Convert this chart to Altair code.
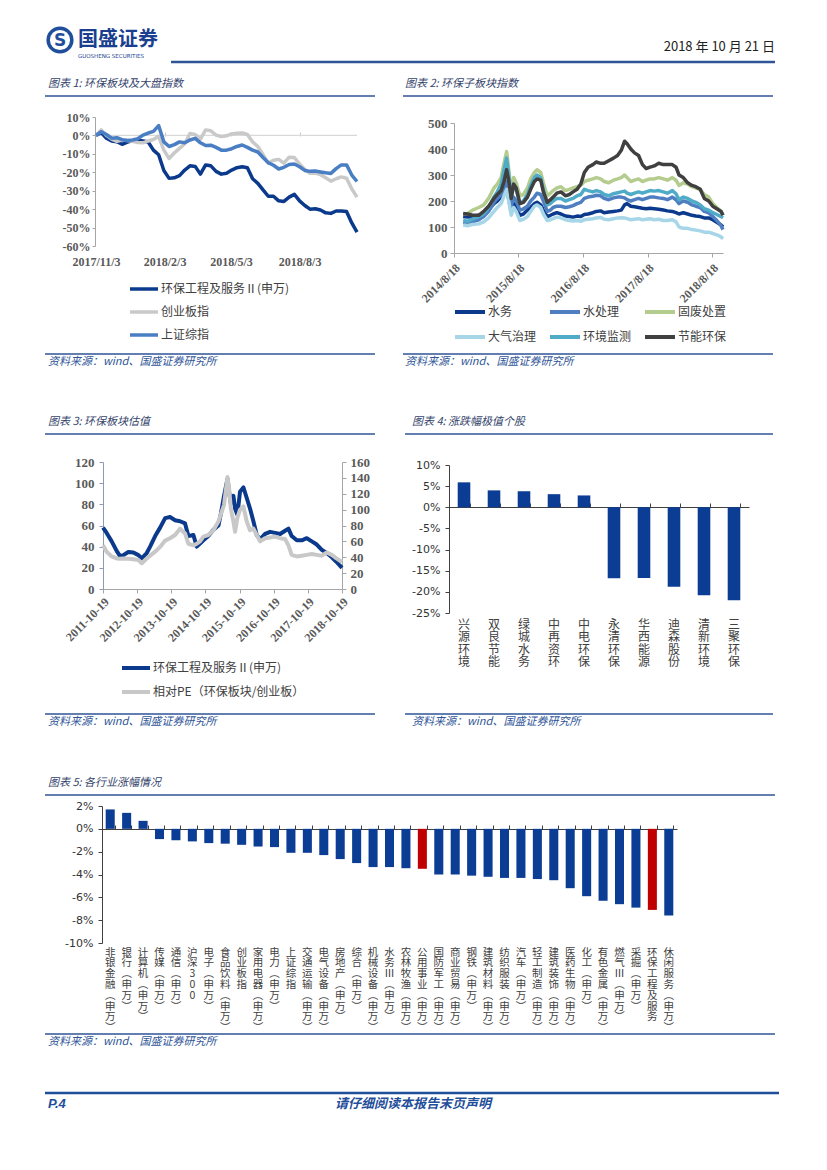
import altair as alt
import pandas as pd

W, H = 811, 1154
M = 8


def px(x):
    return x - M


def py(y):
    return y - M


CJK = "Noto Sans CJK SC"
SERIF = "Liberation Serif"
SANS = "DejaVu Sans"
RULE_BLUE = "#2F5597"
TITLE_C = "#34446B"
SRC_C = "#2F5597"
FOOT_C = "#1F4E9A"
NAVY = "#0B3A8C"
BAR_BLUE = "#0A3D93"
RED = "#C00000"
AX_GRAY = "#A6A6A6"
LAB_GRAY = "#595959"

# ---------------- chart 1: 环保板块及大盘指数 ----------------
c1_dates = ["2017-11-03", "2017-11-10", "2017-11-17", "2017-11-24", "2017-12-01", "2017-12-08",
            "2017-12-15", "2017-12-22", "2017-12-29", "2018-01-05", "2018-01-12", "2018-01-19",
            "2018-01-26", "2018-02-02", "2018-02-09", "2018-02-16", "2018-02-23", "2018-03-02",
            "2018-03-09", "2018-03-16", "2018-03-23", "2018-03-30", "2018-04-06", "2018-04-13",
            "2018-04-20", "2018-04-27", "2018-05-04", "2018-05-11", "2018-05-18", "2018-05-25",
            "2018-06-01", "2018-06-08", "2018-06-15", "2018-06-22", "2018-06-29", "2018-07-06",
            "2018-07-13", "2018-07-20", "2018-07-27", "2018-08-03", "2018-08-10", "2018-08-17",
            "2018-08-24", "2018-08-31", "2018-09-07", "2018-09-14", "2018-09-21", "2018-09-28",
            "2018-10-05", "2018-10-12", "2018-10-19"]
c1_huanbao = [0, 1.5, -1.5, -3.0, -3.4, -4.8, -3.6, -2.9, -2.6, -3.0,
              -3.6, -8.0, -10.5, -19.0, -23.3, -23.0, -21.8, -18.8, -16.5, -16.8,
              -21.0, -16.0, -16.5, -19.5, -21.0, -20.5, -18.8, -17.5, -17.0, -17.5,
              -23.5, -26.0, -29.5, -33.0, -33.0, -35.5, -35.8, -33.5, -32.0, -35.5,
              -38.0, -40.0, -39.8, -40.5, -42.0, -42.3, -41.0, -41.0, -41.3, -47.5, -52.5]
c1_cyb = [0, 3.0, 0.0, -2.0, -3.2, -2.5, -2.8, -3.2, -3.8, -4.0,
          -3.0, -2.2, -0.5, -8.0, -12.5, -9.5, -7.0, -4.5, 1.0, 0.5,
          -2.0, 3.0, 2.5, 0.2, -0.6, -0.2, 0.8, 1.2, 1.3, 0.5,
          -3.5, -6.0, -10.5, -15.0, -13.5, -13.0, -15.0, -11.8, -12.0, -15.5,
          -18.5, -20.5, -20.4, -21.3, -23.0, -24.8, -23.5, -22.5, -23.2, -29.0, -33.5]
c1_szzz = [0, 2.0, 0.5, -1.5, -1.2, -2.3, -2.8, -2.5, -1.8, 0.2,
           1.3, 2.2, 5.3, -3.5, -6.0, -5.0, -3.5, -4.0, -2.5, -1.6,
           -4.0, -5.5, -5.3, -6.5, -8.0, -8.0, -7.2, -6.0, -5.2, -6.5,
           -8.0, -9.0, -12.0, -14.8, -16.2, -18.2, -17.3, -15.8, -15.5, -17.0,
           -19.0, -19.5, -19.3, -19.8, -20.3, -20.6, -18.0, -16.0, -16.0, -21.5, -25.0]
c1_names = ["环保工程及服务Ⅱ(申万)", "创业板指", "上证综指"]
c1_colors = [NAVY, "#C9C9C9", "#4A7EC4"]
c1_yticks = [-60, -50, -40, -30, -20, -10, 0, 10]

# ---------------- chart 2: 环保子板块指数 ----------------
c2_dates = ["2014-10-09", "2014-11-03", "2014-12-01", "2015-01-05", "2015-02-02", "2015-03-02",
            "2015-04-01", "2015-04-20", "2015-05-12", "2015-05-28", "2015-06-12", "2015-06-26",
            "2015-07-08", "2015-07-22", "2015-08-05", "2015-08-26", "2015-09-15", "2015-10-08",
            "2015-10-26", "2015-11-16", "2015-12-01", "2015-12-22", "2016-01-06", "2016-01-28",
            "2016-02-15", "2016-03-01", "2016-03-22", "2016-04-15", "2016-05-10", "2016-06-01",
            "2016-06-22", "2016-07-15", "2016-08-05", "2016-08-25", "2016-09-15", "2016-10-12",
            "2016-11-01", "2016-11-25", "2016-12-15", "2017-01-10", "2017-02-06", "2017-03-01",
            "2017-03-22", "2017-04-10", "2017-04-24", "2017-05-15", "2017-06-05", "2017-06-28",
            "2017-07-20", "2017-08-10", "2017-09-01", "2017-09-25", "2017-10-20", "2017-11-15",
            "2017-12-08", "2018-01-05", "2018-01-26", "2018-02-12", "2018-03-08", "2018-04-02",
            "2018-04-26", "2018-05-18", "2018-06-12", "2018-07-05", "2018-07-30", "2018-08-22",
            "2018-09-14", "2018-10-08", "2018-10-19"]
c2_shuiwu = [140, 138, 140, 145, 150, 165, 190, 200, 215, 230, 245, 200, 160, 190, 175, 145, 150, 165,
             175, 190, 195, 185, 165, 140, 145, 150, 155, 150, 142, 140, 138, 142, 140, 148, 150, 155,
             160, 162, 155, 158, 160, 162, 165, 185, 190, 180, 178, 175, 172, 170, 172, 170, 168, 165,
             162, 160, 155, 150, 155, 150, 145, 142, 140, 135, 135, 128, 118, 108, 100]
c2_shuichuli = [118, 115, 120, 128, 140, 160, 195, 210, 225, 250, 275, 225, 180, 215, 200, 165, 170, 180,
                200, 215, 230, 225, 200, 160, 165, 175, 180, 180, 175, 178, 182, 190, 195, 210, 215, 218,
                222, 220, 210, 205, 212, 215, 215, 212, 205, 200, 205, 210, 205, 210, 215, 215, 212, 210,
                205, 215, 205, 190, 200, 195, 185, 180, 175, 160, 155, 140, 125, 105, 90]
c2_gufei = [150, 152, 165, 175, 185, 210, 250, 265, 290, 345, 390, 310, 230, 290, 270, 220, 225, 250,
            285, 310, 320, 310, 270, 220, 230, 240, 250, 255, 240, 245, 250, 255, 260, 275, 280, 285,
            290, 285, 275, 270, 280, 285, 290, 300, 290, 275, 280, 285, 275, 280, 285, 285, 290, 285,
            280, 290, 280, 260, 270, 265, 255, 250, 245, 225, 215, 190, 175, 160, 145]
c2_daqi = [108, 105, 110, 112, 120, 135, 160, 175, 190, 220, 245, 190, 145, 175, 160, 125, 130, 140,
           160, 180, 185, 175, 150, 125, 128, 132, 138, 135, 128, 125, 123, 125, 122, 128, 130, 132,
           135, 137, 130, 128, 132, 135, 136, 135, 132, 128, 130, 132, 128, 130, 132, 128, 130, 125,
           125, 128, 120, 100, 95, 95, 90, 88, 85, 80, 80, 75, 70, 62, 55]
c2_jiance = [125, 122, 130, 140, 150, 175, 215, 235, 265, 320, 365, 290, 210, 265, 245, 190, 200, 225,
             260, 290, 300, 290, 245, 185, 190, 200, 210, 210, 200, 205, 210, 220, 225, 245, 240, 235,
             240, 235, 225, 220, 228, 232, 235, 238, 230, 225, 230, 235, 230, 235, 240, 238, 240, 235,
             230, 240, 228, 205, 215, 210, 200, 195, 185, 170, 165, 155, 148, 140, 135]
c2_jieneng = [152, 150, 145, 145, 160, 180, 210, 225, 240, 275, 320, 270, 210, 265, 250, 190, 195, 215,
              245, 275, 285, 280, 235, 195, 205, 215, 230, 235, 220, 225, 235, 245, 265, 310, 330, 340,
              350, 345, 345, 355, 365, 375, 395, 430, 420, 400, 385, 375, 340, 325, 330, 335, 345, 340,
              340, 340, 330, 300, 290, 270, 260, 255, 245, 210, 200, 180, 170, 160, 145]
c2_names = ["水务", "水处理", "固废处置", "大气治理", "环境监测", "节能环保"]
c2_colors = [NAVY, "#4F7FC0", "#B4CC8E", "#A6D6E8", "#4FACC8", "#404040"]
c2_yticks = [0, 100, 200, 300, 400, 500]

# ---------------- chart 3: 环保板块估值 ----------------
c3_dates = ["2011-10-19", "2011-11-27", "2012-01-20", "2012-03-13", "2012-04-18", "2012-05-24",
            "2012-07-16", "2012-09-08", "2012-11-01", "2012-12-07", "2013-01-29", "2013-03-06",
            "2013-04-29", "2013-06-21", "2013-08-14", "2013-10-05", "2013-11-28", "2014-01-20",
            "2014-03-15", "2014-04-19", "2014-06-12", "2014-07-18", "2014-08-22", "2014-09-27",
            "2014-11-19", "2015-01-12", "2015-03-07", "2015-04-04", "2015-05-06", "2015-06-12",
            "2015-06-29", "2015-07-17", "2015-08-14", "2015-09-01", "2015-09-26", "2015-10-24",
            "2015-11-29", "2016-01-04", "2016-02-08", "2016-03-15", "2016-04-20", "2016-05-26",
            "2016-07-18", "2016-09-10", "2016-11-02", "2016-12-26", "2017-02-17", "2017-03-25",
            "2017-04-29", "2017-06-22", "2017-08-15", "2017-10-07", "2017-11-30", "2018-01-22",
            "2018-03-17", "2018-05-09", "2018-07-02", "2018-08-17", "2018-10-19"]
c3_pe = [58, 53, 45, 36, 31, 32, 35, 34.5, 32, 29,
         34, 40, 50, 58, 67, 68, 65, 64, 62, 50,
         51, 40, 43, 46, 50, 56, 60, 72, 88, 104,
         92, 81, 88, 76, 70, 92, 96, 86, 76, 64,
         51, 47, 52, 54, 53, 52, 55, 57, 50, 46,
         46, 48, 45, 42, 37, 34, 30, 26, 20]
c3_rel = [55, 47, 41, 38.5, 38, 38.5, 38, 37.5, 36.5, 32.5,
          38.5, 42, 47, 53, 61, 64, 68, 76, 70, 57,
          55, 57, 60, 66, 68, 74, 85, 95, 106, 141,
          127, 102, 85, 72, 90, 100, 104, 85, 74, 76,
          68, 60, 64, 65, 66, 64, 63, 55, 43, 41,
          42, 43, 44, 43, 42, 46, 43, 39, 34]
c3_names = ["环保工程及服务Ⅱ(申万)", "相对PE（环保板块/创业板）"]
c3_colors = [NAVY, "#C8C8C8"]
c3_left_ticks = [0, 20, 40, 60, 80, 100, 120]
c3_right_ticks = [0, 20, 40, 60, 80, 100, 120, 140, 160]

# ---------------- chart 4: 涨跌幅极值个股 ----------------
c4_names = ["兴源环境", "双良节能", "绿城水务", "中再资环", "中电环保",
            "永清环保", "华西能源", "迪森股份", "清新环境", "三聚环保"]
c4_values = [5.9, 4.0, 3.8, 3.1, 2.8, -16.8, -16.7, -18.8, -20.8, -22.0]
c4_yticks = [-25, -20, -15, -10, -5, 0, 5, 10]

# ---------------- chart 5: 各行业涨幅情况 ----------------
c5_names = ["非银金融(申万)", "银行(申万)", "计算机(申万)", "传媒(申万)", "通信(申万)", "沪深300",
            "电子(申万)", "食品饮料(申万)", "创业板指", "家用电器(申万)", "电力(申万)", "上证综指",
            "交通运输(申万)", "电气设备(申万)", "房地产(申万)", "综合(申万)", "机械设备(申万)",
            "水务Ⅲ(申万)", "农林牧渔(申万)", "公用事业(申万)", "国防军工(申万)", "商业贸易(申万)",
            "钢铁(申万)", "建筑材料(申万)", "纺织服装(申万)", "汽车(申万)", "轻工制造(申万)",
            "建筑装饰(申万)", "医药生物(申万)", "化工(申万)", "有色金属(申万)", "燃气Ⅲ(申万)",
            "采掘(申万)", "环保工程及服务", "休闲服务(申万)"]
c5_values = [1.7, 1.4, 0.7, -0.9, -1.0, -1.1, -1.25, -1.3, -1.4, -1.55,
             -1.6, -2.1, -2.1, -2.3, -2.65, -3.0, -3.35, -3.35, -3.45, -3.5,
             -4.0, -4.0, -4.1, -4.2, -4.3, -4.3, -4.4, -4.5, -5.2, -5.9,
             -6.3, -6.6, -6.9, -7.1, -7.6]
c5_red = ["公用事业(申万)", "环保工程及服务"]
c5_yticks = [-10, -8, -6, -4, -2, 0, 2]


def utc(y, m, d):
    return alt.DateTime(year=y, month=m, date=d, utc=True)


one = pd.DataFrame({"a": [0]})
layers = []


def txt(s, x, y, size=11, color="#333333", font=CJK, weight="normal", style="normal",
        align="left", baseline="middle"):
    return alt.Chart(one).mark_text(
        text=s, font=font, fontSize=size, color=color, fontWeight=weight,
        fontStyle=style, align=align, baseline=baseline
    ).encode(x=alt.value(px(x)), y=alt.value(py(y)))


def hline(x0, x1, y, color=RULE_BLUE, w=1.6):
    return alt.Chart(one).mark_rule(color=color, strokeWidth=w).encode(
        x=alt.value(px(x0)), x2=alt.value(px(x1)), y=alt.value(py(y)))


def num_axis(orient, xpos, values, expr, font=SERIF, weight="bold", size=12,
             color=LAB_GRAY, dcolor=AX_GRAY, tick=4, pad=3):
    if orient == "left":
        off = -px(xpos)
    else:
        off = px(xpos) - W
    return alt.Axis(orient=orient, offset=off, values=values, labelExpr=expr, grid=False,
                    domainColor=dcolor, tickColor=dcolor, tickSize=tick, labelPadding=pad,
                    labelFont=font, labelFontWeight=weight, labelFontSize=size,
                    labelColor=color, labelOverlap=False, title=None)


def line_legend(x, y, row_pad, sym=784, sw=3.5, columns=None, col_pad=None):
    kw = dict(orient="none", legendX=px(x), legendY=py(y), title=None, symbolType="stroke",
              symbolSize=sym, symbolStrokeWidth=sw, labelFont=CJK, labelFontSize=12,
              labelColor="#404040", rowPadding=row_pad, labelOffset=1, labelLimit=300,
              padding=0)
    if columns:
        kw.update(direction="horizontal", columns=columns, columnPadding=col_pad, gridAlign="all")
    else:
        kw.update(direction="vertical")
    return alt.Legend(**kw)


# ---------------- page decorations ----------------
layers.append(alt.Chart(one).mark_point(shape="circle", size=560, filled=False, stroke=FOOT_C,
                                        strokeWidth=3.5, opacity=1).encode(
    x=alt.value(px(60)), y=alt.value(py(40))))
layers.append(txt("S", 60, 41, size=17, color=FOOT_C, font=SANS, weight="bold", align="center"))
layers.append(txt("国盛证券", 78, 40, size=20, color="#1A3F8F", weight="bold"))
layers.append(txt("GUOSHENG SECURITIES", 78, 56, size=5.5, color="#1A3F8F", font=SANS))
layers.append(txt("2018 年 10 月 21 日", 775, 47, size=13, color="#222222",
                  font="Liberation Sans Narrow, Noto Sans CJK SC", align="right"))
layers.append(hline(171, 775, 62, color=RULE_BLUE, w=2.5))

layers.append(txt("图表 1:  环保板块及大盘指数", 48, 84, color=TITLE_C, style="italic"))
layers.append(txt("图表 2:  环保子板块指数", 405, 84, color=TITLE_C, style="italic"))
layers.append(txt("图表 3:  环保板块估值", 48, 422, color=TITLE_C, style="italic"))
layers.append(txt("图表 4:  涨跌幅极值个股", 412, 422, color=TITLE_C, style="italic"))
layers.append(txt("图表 5:  各行业涨幅情况", 48, 783, color=TITLE_C, style="italic"))
layers.append(hline(45, 375, 96))
layers.append(hline(403, 773, 96))
layers.append(hline(45, 375, 434))
layers.append(hline(405, 773, 434))
layers.append(hline(45, 775, 795))

SRC = "资料来源：wind、国盛证券研究所"
layers.append(txt(SRC, 48, 362, color=SRC_C, style="italic"))
layers.append(txt(SRC, 405, 362, color=SRC_C, style="italic"))
layers.append(txt(SRC, 48, 722, color=SRC_C, style="italic"))
layers.append(txt(SRC, 412, 722, color=SRC_C, style="italic"))
layers.append(txt(SRC, 48, 1042, color=SRC_C, style="italic"))
layers.append(hline(45, 375, 354))
layers.append(hline(403, 773, 354))
layers.append(hline(45, 375, 714))
layers.append(hline(405, 773, 714))
layers.append(hline(45, 775, 1034))

layers.append(hline(45, 779, 1093, color=FOOT_C, w=2.5))
layers.append(txt("P.4", 48, 1104, size=13, color=FOOT_C, font="Liberation Sans",
                  weight="bold", style="italic"))
layers.append(txt("请仔细阅读本报告末页声明", 413, 1104, size=13, color=FOOT_C,
                  weight="bold", style="italic", align="center"))

# ---------------- chart 1 ----------------
df1 = pd.DataFrame({
    "date": c1_dates * 3,
    "value": c1_huanbao + c1_cyb + c1_szzz,
    "series": [n for n in c1_names for _ in c1_dates],
})
x1_scale = alt.Scale(type="utc", domain=[utc(2017, 11, 3), utc(2018, 10, 19)], range=[px(96), px(357)])
y1_scale = alt.Scale(domain=[-60, 10], range=[py(246), py(117)], nice=False, zero=False)
x1_ticks = [utc(2017, 11, 3), utc(2018, 2, 3), utc(2018, 5, 3), utc(2018, 8, 3)]

zero1 = pd.DataFrame({"d0": [c1_dates[0]], "d1": [c1_dates[-1]], "v": [0]})
layers.append(alt.Chart(zero1).mark_rule(color="#D9D9D9", strokeWidth=1.2).encode(
    x=alt.X("d0:T", scale=x1_scale,
            axis=alt.Axis(orient="top", offset=-py(136), values=x1_ticks, labels=False,
                          domain=False, ticks=True, tickColor="#C8C8C8", tickSize=4,
                          grid=False, title=None)),
    x2="d1:T",
    y=alt.Y("v:Q", scale=y1_scale, axis=None),
))
layers.append(alt.Chart(df1).mark_line(strokeWidth=3.5, strokeJoin="round").encode(
    x=alt.X("date:T", scale=x1_scale,
            axis=alt.Axis(orient="bottom", offset=py(246) - H, values=x1_ticks,
                          labelExpr="utcFormat(datum.value, '%Y/%-m/%-d')", domain=False,
                          ticks=False, tickSize=0, labelPadding=10, grid=False, title=None,
                          labelFont=SERIF, labelFontWeight="bold", labelFontSize=12,
                          labelColor=LAB_GRAY, labelOverlap=False, labelFlush=False)),
    y=alt.Y("value:Q", scale=y1_scale,
            axis=num_axis("left", 95, c1_yticks, "datum.value + '%'", tick=3, pad=2)),
    color=alt.Color("series:N", scale=alt.Scale(domain=c1_names, range=c1_colors),
                    legend=line_legend(128, 273, -3)),
))

# ---------------- chart 2 ----------------
c2_series = [c2_shuiwu, c2_shuichuli, c2_gufei, c2_daqi, c2_jiance, c2_jieneng]
df2 = pd.DataFrame({
    "date": c2_dates * 6,
    "value": [v for s in c2_series for v in s],
    "series": [n for n in c2_names for _ in c2_dates],
})
x2_scale = alt.Scale(type="utc", domain=[utc(2014, 8, 18), utc(2018, 10, 19)], range=[px(454), px(723)])
y2_scale = alt.Scale(domain=[0, 500], range=[py(253), py(123)], nice=False, zero=False)
x2_ticks = [utc(y, 8, 18) for y in (2014, 2015, 2016, 2017, 2018)]
layers.append(alt.Chart(df2).mark_line(strokeWidth=3.5, strokeJoin="round").encode(
    x=alt.X("date:T", scale=x2_scale,
            axis=alt.Axis(orient="bottom", offset=py(253) - H, values=x2_ticks,
                          labelExpr="utcFormat(datum.value, '%Y/%-m/%-d')",
                          domainColor=AX_GRAY, tickColor=AX_GRAY, tickSize=4, labelPadding=5,
                          labelAngle=315, grid=False, title=None, labelFont=SERIF,
                          labelFontWeight="bold", labelFontSize=12, labelColor=LAB_GRAY,
                          labelOverlap=False, labelFlush=False)),
    y=alt.Y("value:Q", scale=y2_scale,
            axis=num_axis("left", 454, c2_yticks, "datum.value", size=13, tick=4, pad=3)),
    color=alt.Color("series:N", scale=alt.Scale(domain=c2_names, range=c2_colors),
                    legend=line_legend(453, 295, -2, sym=900, sw=4, columns=3, col_pad=5)),
))

# ---------------- chart 3 ----------------
x3_scale = alt.Scale(type="utc", domain=[utc(2011, 10, 19), utc(2018, 10, 19)], range=[px(103), px(342)])
y3l_scale = alt.Scale(domain=[0, 120], range=[py(589), py(462)], nice=False, zero=False)
y3r_scale = alt.Scale(domain=[0, 160], range=[py(589), py(462)], nice=False, zero=False)
x3_ticks = [utc(y, 10, 19) for y in range(2011, 2019)]
c3_color_scale = alt.Scale(domain=c3_names, range=c3_colors)
df3a = pd.DataFrame({"date": c3_dates, "value": c3_pe, "series": c3_names[0]})
df3b = pd.DataFrame({"date": c3_dates, "value": c3_rel, "series": c3_names[1]})
layers.append(alt.Chart(df3a).mark_line(strokeWidth=4, strokeJoin="round").encode(
    x=alt.X("date:T", scale=x3_scale,
            axis=alt.Axis(orient="bottom", offset=py(589) - H, values=x3_ticks,
                          labelExpr="utcFormat(datum.value, '%Y-%m-%d')",
                          domainColor=AX_GRAY, tickColor=AX_GRAY, tickSize=4, labelPadding=3,
                          labelAngle=315, grid=False, title=None, labelFont=SERIF,
                          labelFontWeight="bold", labelFontSize=12, labelColor=LAB_GRAY,
                          labelOverlap=False, labelFlush=False)),
    y=alt.Y("value:Q", scale=y3l_scale,
            axis=num_axis("left", 103, c3_left_ticks, "datum.value", size=13, tick=4, pad=5,
                          dcolor="#8C9BB5")),
    color=alt.Color("series:N", scale=c3_color_scale,
                    legend=line_legend(120, 652, -6, sw=4)),
))
layers.append(alt.Chart(df3b).mark_line(strokeWidth=4, strokeJoin="round").encode(
    x=alt.X("date:T", scale=x3_scale, axis=None),
    y=alt.Y("value:Q", scale=y3r_scale,
            axis=num_axis("right", 342, c3_right_ticks, "datum.value", size=13, tick=4, pad=4)),
    color=alt.Color("series:N", scale=c3_color_scale, legend=None),
))

# ---------------- chart 4 ----------------
df4 = pd.DataFrame({"name": c4_names, "value": c4_values})
x4_scale = alt.Scale(domain=c4_names, range=[px(449), px(749)], paddingInner=0.58, paddingOuter=0.29)
y4_scale = alt.Scale(domain=[-25, 10], range=[py(613), py(465)], nice=False, zero=False)
layers.append(alt.Chart(df4).mark_bar(color=BAR_BLUE).encode(
    x=alt.X("name:N", sort=None, scale=x4_scale,
            axis=alt.Axis(orient="bottom", offset=py(613) - H, domain=False, ticks=False,
                          tickSize=0, labelAngle=0, labelExpr="split(datum.label, '')",
                          labelPadding=6, labelLineHeight=12.5, labelFont=CJK,
                          labelFontSize=12, labelColor="#404040", labelBaseline="top",
                          labelAlign="center", grid=False, title=None, labelOverlap=False)),
    y=alt.Y("value:Q", scale=y4_scale,
            axis=num_axis("left", 449, c4_yticks, "datum.value + '%'", font=SANS,
                          weight="normal", size=11, color="#333333", dcolor="#404040",
                          tick=4, pad=5)),
    y2=alt.datum(0),
))
layers.append(alt.Chart(df4).mark_point(opacity=0).encode(
    x=alt.X("name:N", sort=None, scale=x4_scale,
            axis=alt.Axis(orient="top", offset=-py(507), labels=False, domainColor="#404040",
                          tickColor="#404040", tickSize=4, tickBand="extent", grid=False,
                          title=None)),
    y=alt.Y("value:Q", scale=y4_scale, axis=None),
))

# ---------------- chart 5 ----------------
df5 = pd.DataFrame({"name": c5_names, "value": c5_values,
                    "hl": ["hi" if n in c5_red else "lo" for n in c5_names]})
x5_scale = alt.Scale(domain=c5_names, range=[px(102), px(677)], paddingInner=0.45, paddingOuter=0.225)
y5_scale = alt.Scale(domain=[-10, 2], range=[py(943), py(806)], nice=False, zero=False)
layers.append(alt.Chart(df5).mark_bar().encode(
    x=alt.X("name:N", sort=None, scale=x5_scale,
            axis=alt.Axis(orient="bottom", offset=py(943) - H, domain=False, ticks=False,
                          tickSize=0, labelAngle=0,
                          labelExpr="split(replace(replace(datum.label, '(', '︵'), ')', '︶'), '')",
                          labelPadding=4, labelLineHeight=10.8, labelFont=CJK,
                          labelFontSize=10.5, labelColor="#404040", labelBaseline="top",
                          labelAlign="center", grid=False, title=None, labelOverlap=False)),
    y=alt.Y("value:Q", scale=y5_scale,
            axis=num_axis("left", 102, c5_yticks, "datum.value + '%'", font=SANS,
                          weight="normal", size=11, color="#333333", dcolor="#404040",
                          tick=4, pad=5)),
    y2=alt.datum(0),
    color=alt.Color("hl:N", scale=alt.Scale(domain=["lo", "hi"], range=[BAR_BLUE, RED]), legend=None),
))
layers.append(alt.Chart(df5).mark_point(opacity=0).encode(
    x=alt.X("name:N", sort=None, scale=x5_scale,
            axis=alt.Axis(orient="top", offset=-py(829), labels=False, domainColor="#404040",
                          tickColor="#404040", tickSize=4, tickBand="extent", grid=False,
                          title=None)),
    y=alt.Y("value:Q", scale=y5_scale, axis=None),
))

chart = alt.layer(*layers).resolve_scale(
    x="independent", y="independent", color="independent"
).resolve_axis(
    x="independent", y="independent"
).resolve_legend(
    color="independent"
).properties(
    width=W, height=H, padding=0, autosize=alt.AutoSizeParams(type="none")
).configure_view(strokeWidth=0)

chart.save("out.html", embed_options={"renderer": "svg", "actions": False})
